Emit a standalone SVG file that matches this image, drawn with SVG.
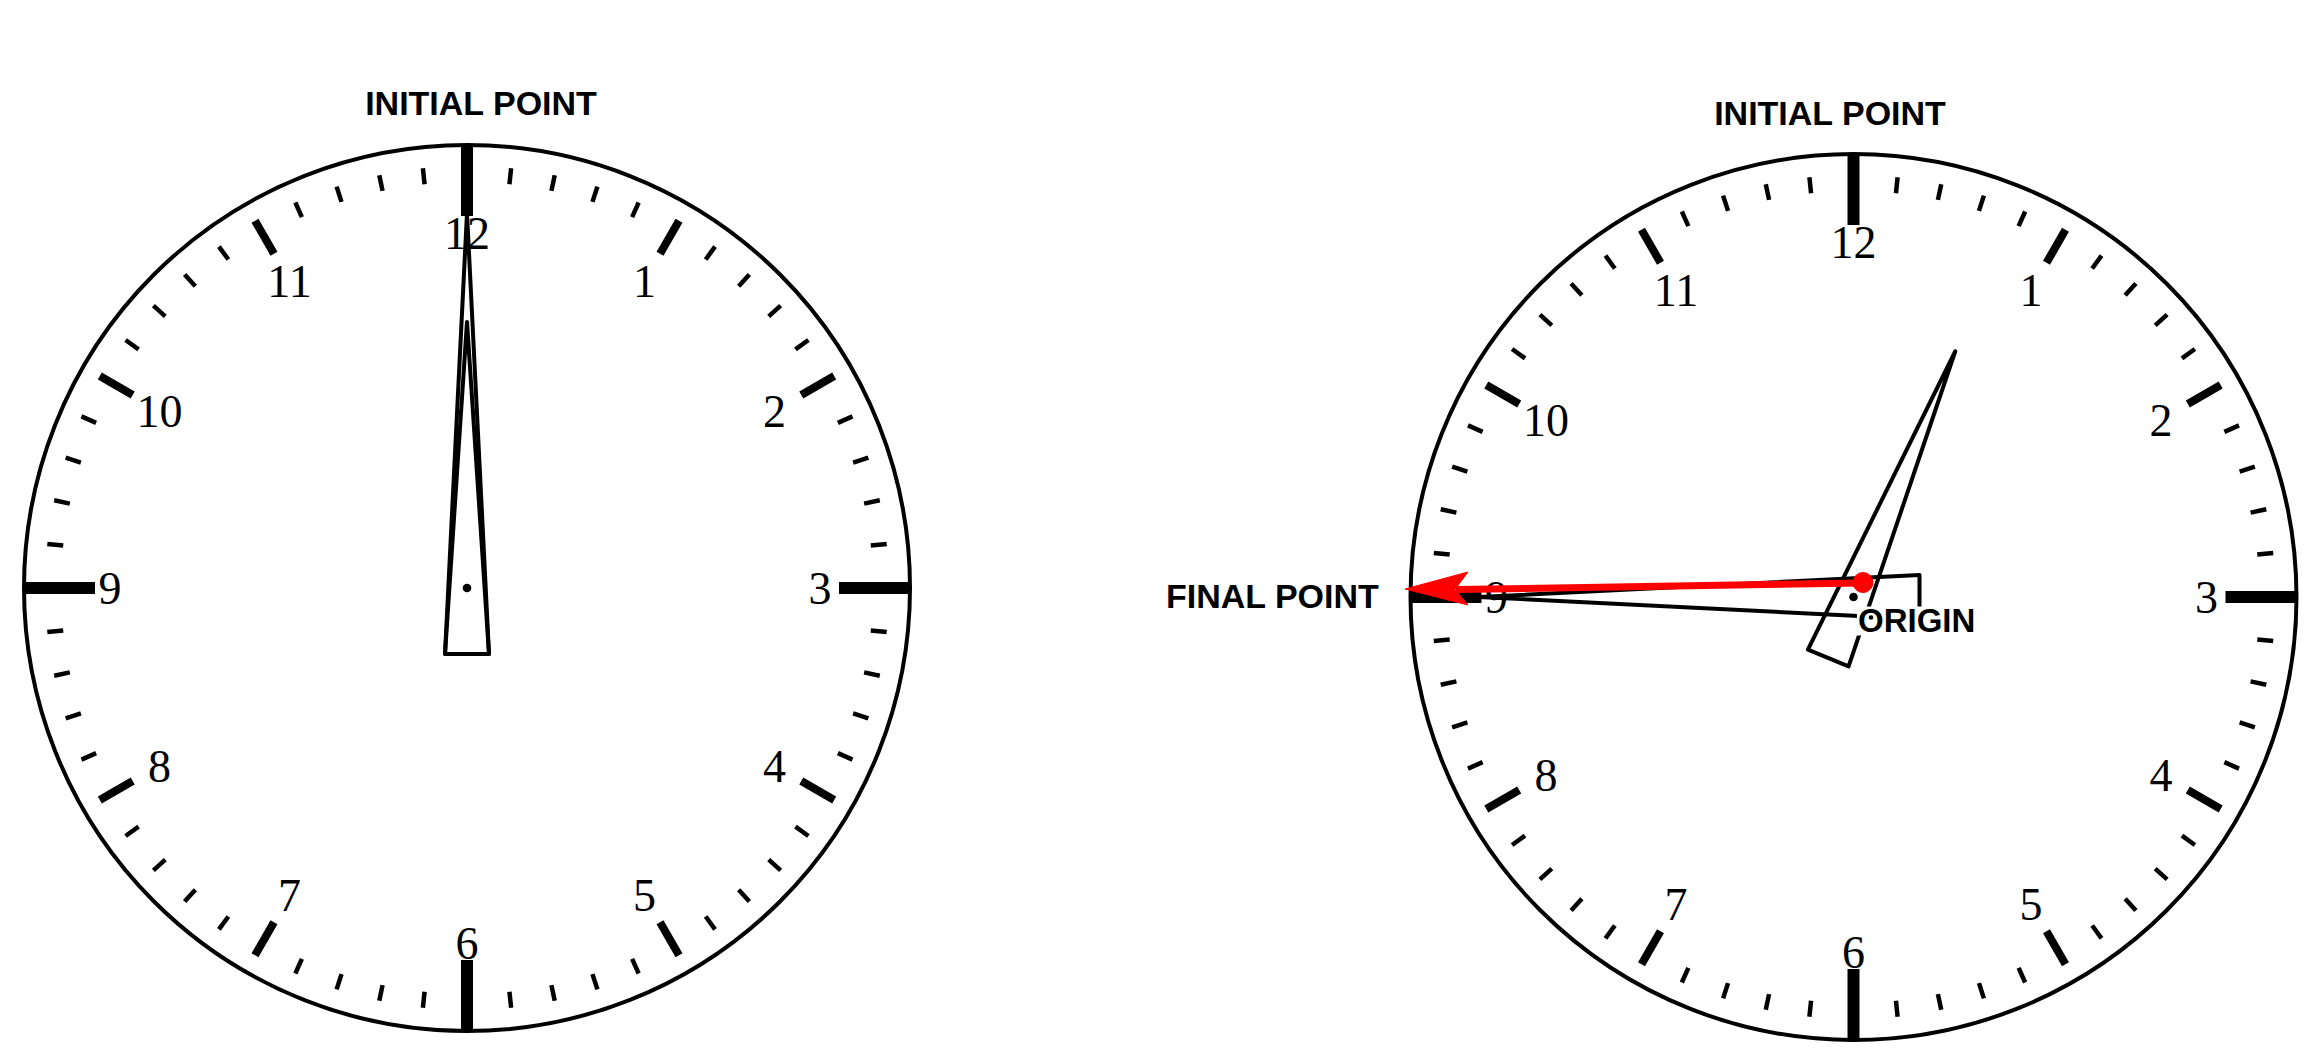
<svg xmlns="http://www.w3.org/2000/svg" width="2319" height="1063" viewBox="0 0 2319 1063">
<style>
.face{fill:none;stroke:#000;stroke-width:4}
.mt{stroke:#000;stroke-width:4.5}
.ht{stroke:#000;stroke-width:8}
.qt{stroke:#000;stroke-width:12}
.num{font-family:"Liberation Serif","Times New Roman",serif;font-size:46px;text-anchor:middle;fill:#000}
.lbl{font-family:"Liberation Sans",Arial,sans-serif;font-weight:bold;font-size:34px;fill:#000}
.hand{fill:none;stroke:#000;stroke-width:4;stroke-linejoin:round}
.red{stroke:#f00;fill:#f00}
</style>
<defs>
<line id="mt" class="mt" x1="0" y1="-406" x2="0" y2="-422"/>
<line id="ht" class="ht" x1="0" y1="-386" x2="0" y2="-424"/>
<line id="qt" class="qt" x1="0" y1="-372" x2="0" y2="-443"/>
<g id="ticks">
<use href="#qt"/><use href="#qt" transform="rotate(90)"/><use href="#qt" transform="rotate(180)"/><use href="#qt" transform="rotate(270)"/>
<use href="#ht" transform="rotate(30)"/><use href="#ht" transform="rotate(60)"/><use href="#ht" transform="rotate(120)"/><use href="#ht" transform="rotate(150)"/>
<use href="#ht" transform="rotate(210)"/><use href="#ht" transform="rotate(240)"/><use href="#ht" transform="rotate(300)"/><use href="#ht" transform="rotate(330)"/>
<use href="#mt" transform="rotate(6)"/><use href="#mt" transform="rotate(12)"/><use href="#mt" transform="rotate(18)"/><use href="#mt" transform="rotate(24)"/>
<use href="#mt" transform="rotate(36)"/><use href="#mt" transform="rotate(42)"/><use href="#mt" transform="rotate(48)"/><use href="#mt" transform="rotate(54)"/>
<use href="#mt" transform="rotate(66)"/><use href="#mt" transform="rotate(72)"/><use href="#mt" transform="rotate(78)"/><use href="#mt" transform="rotate(84)"/>
<use href="#mt" transform="rotate(96)"/><use href="#mt" transform="rotate(102)"/><use href="#mt" transform="rotate(108)"/><use href="#mt" transform="rotate(114)"/>
<use href="#mt" transform="rotate(126)"/><use href="#mt" transform="rotate(132)"/><use href="#mt" transform="rotate(138)"/><use href="#mt" transform="rotate(144)"/>
<use href="#mt" transform="rotate(156)"/><use href="#mt" transform="rotate(162)"/><use href="#mt" transform="rotate(168)"/><use href="#mt" transform="rotate(174)"/>
<use href="#mt" transform="rotate(186)"/><use href="#mt" transform="rotate(192)"/><use href="#mt" transform="rotate(198)"/><use href="#mt" transform="rotate(204)"/>
<use href="#mt" transform="rotate(216)"/><use href="#mt" transform="rotate(222)"/><use href="#mt" transform="rotate(228)"/><use href="#mt" transform="rotate(234)"/>
<use href="#mt" transform="rotate(246)"/><use href="#mt" transform="rotate(252)"/><use href="#mt" transform="rotate(258)"/><use href="#mt" transform="rotate(264)"/>
<use href="#mt" transform="rotate(276)"/><use href="#mt" transform="rotate(282)"/><use href="#mt" transform="rotate(288)"/><use href="#mt" transform="rotate(294)"/>
<use href="#mt" transform="rotate(306)"/><use href="#mt" transform="rotate(312)"/><use href="#mt" transform="rotate(318)"/><use href="#mt" transform="rotate(324)"/>
<use href="#mt" transform="rotate(336)"/><use href="#mt" transform="rotate(342)"/><use href="#mt" transform="rotate(348)"/><use href="#mt" transform="rotate(354)"/>
</g>
<polygon id="minute-hand" class="hand" points="-22,66 22,66 0,-375"/>
<polygon id="hour-hand" class="hand" points="-22,66 22,66 0,-266"/>
</defs>
<rect width="2319" height="1063" fill="#fff"/>

<g id="clock-left" transform="translate(467,588)">
<circle class="face" r="443"/>
<use href="#ticks"/>
<text class="num" x="0" y="-339">12</text>
<text class="num" x="177.5" y="-291.4">1</text>
<text class="num" x="307.4" y="-161.5">2</text>
<text class="num" x="353" y="16">3</text>
<text class="num" x="307.4" y="193.5">4</text>
<text class="num" x="177.5" y="323.4">5</text>
<text class="num" x="0" y="371">6</text>
<text class="num" x="-177.5" y="323.4">7</text>
<text class="num" x="-307.4" y="193.5">8</text>
<text class="num" x="-357" y="16">9</text>
<text class="num" x="-307.4" y="-161.5">10</text>
<text class="num" x="-177.5" y="-291.4">11</text>
<use href="#minute-hand"/>
<use href="#hour-hand"/>
<circle r="4.3" fill="#000"/>
</g>

<g id="clock-right" transform="translate(1853.5,597)">
<circle class="face" r="443"/>
<use href="#ticks"/>
<text class="num" x="0" y="-339">12</text>
<text class="num" x="177.5" y="-291.4">1</text>
<text class="num" x="307.4" y="-161.5">2</text>
<text class="num" x="353" y="16">3</text>
<text class="num" x="307.4" y="193.5">4</text>
<text class="num" x="177.5" y="323.4">5</text>
<text class="num" x="0" y="371">6</text>
<text class="num" x="-177.5" y="323.4">7</text>
<text class="num" x="-307.4" y="193.5">8</text>
<text class="num" x="-357" y="16">9</text>
<text class="num" x="-307.4" y="-161.5">10</text>
<text class="num" x="-177.5" y="-291.4">11</text>
<use href="#minute-hand" transform="rotate(-90)"/>
<use href="#hour-hand" transform="rotate(22.5)"/>
<circle r="4.3" fill="#000"/>
</g>

<g id="label-initial-left">
<text class="lbl" x="481" y="115" text-anchor="middle">INITIAL POINT</text>
</g>
<g id="label-initial-right">
<text class="lbl" x="1830" y="125" text-anchor="middle">INITIAL POINT</text>
</g>
<g id="label-final">
<text class="lbl" x="1166" y="607.5">FINAL POINT</text>
</g>
<g id="label-origin">
<rect x="1857" y="606.5" width="124" height="29" fill="#fff"/>
<text class="lbl" x="1858" y="632" style="font-size:33px">ORIGIN</text>
<circle cx="1871" cy="617.5" r="2.3" fill="#000"/>
</g>

<g id="connectors">
<line x1="1863" y1="583" x2="1456" y2="589.5" stroke="#f00" stroke-width="7"/>
<polygon class="red" stroke-width="1" points="1405,589 1468,572 1455,589.5 1468,605"/>
<circle class="red" cx="1863" cy="582.5" r="10"/>
</g>
</svg>
